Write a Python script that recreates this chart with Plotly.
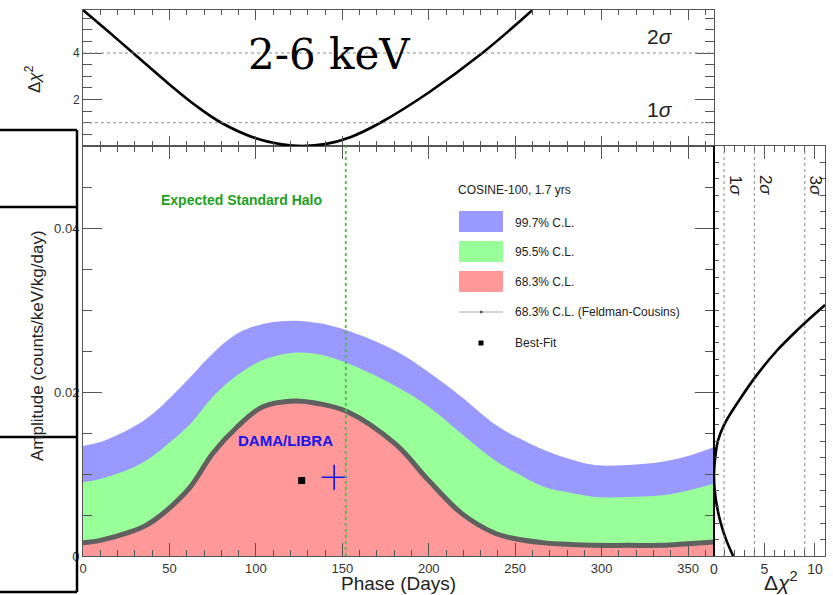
import plotly.graph_objects as go

W, H = 833, 595

# ---------------- data ----------------
phase = [0, 10, 27, 37, 47, 62, 75, 89, 104, 122, 136, 153, 181, 200, 219, 238, 250, 267, 282, 296, 315, 335, 350, 365]
fc_upper = [0.0016, 0.0019, 0.0029, 0.0038, 0.0053, 0.0084, 0.0125, 0.0157, 0.0182, 0.0189, 0.0186, 0.0176,
            0.0136, 0.0092, 0.0052, 0.0028, 0.0021, 0.0016, 0.0014, 0.0013, 0.0013, 0.0013, 0.0015, 0.0017]
cl955_upper = [0.0090, 0.0094, 0.0106, 0.0117, 0.0133, 0.0161, 0.0194, 0.0220, 0.0239, 0.0248, 0.0246, 0.0235,
               0.0207, 0.0182, 0.0149, 0.0117, 0.0102, 0.0084, 0.0077, 0.0072, 0.0072, 0.0074, 0.0080, 0.0088]
cl997_upper = [0.0134, 0.0139, 0.0155, 0.0168, 0.0186, 0.0218, 0.0247, 0.0271, 0.0283, 0.0287, 0.0284, 0.0275,
               0.0250, 0.0224, 0.0194, 0.0161, 0.0146, 0.0129, 0.0118, 0.0111, 0.0111, 0.0115, 0.0122, 0.0133]

top_phase = [0, 15, 29, 50, 65, 80, 100, 115, 127, 140, 155, 172, 200, 231, 260]
top_dchi2 = [5.85, 4.9, 4.0, 2.65, 1.75, 1.0, 0.33, 0.07, 0.0, 0.08, 0.39, 1.0, 2.3, 4.0, 5.85]

right_amp = [0.0, 0.002, 0.004, 0.006, 0.008, 0.0099, 0.012, 0.0141, 0.016, 0.019, 0.022, 0.025, 0.0276, 0.0306]
right_dchi2 = [1.9, 1.2, 0.67, 0.3, 0.07, 0.0, 0.12, 0.4, 1.0, 2.5, 4.2, 6.2, 8.3, 11.0]

best_fit_phase, best_fit_amp = [126.5], [0.0092]
dama_phase, dama_amp = [145.3], [0.0096]
halo_phase = 152
sigma_levels = [1, 4, 9]
sigma_labels = ["1σ", "2σ", "3σ"]

BLUE = "rgb(153,153,255)"
GREEN = "rgb(153,255,153)"
RED = "rgb(255,153,153)"
GRAY = "rgb(96,96,96)"
FONT = "Liberation Sans, Arial, Helvetica, sans-serif"


def px(x):
    return x / W


def py(y):
    return 1 - y / H


fig = go.Figure()

# bands (main panel)
fig.add_trace(go.Scatter(x=phase, y=cl997_upper, fill="tozeroy", fillcolor=BLUE, mode="lines",
                         line=dict(width=0, color=BLUE, shape="spline", smoothing=1.0), xaxis="x", yaxis="y",
                         showlegend=False, hoverinfo="skip"))
fig.add_trace(go.Scatter(x=phase, y=cl955_upper, fill="tozeroy", fillcolor=GREEN, mode="lines",
                         line=dict(width=0, color=GREEN, shape="spline", smoothing=1.0), xaxis="x", yaxis="y",
                         showlegend=False, hoverinfo="skip"))
fig.add_trace(go.Scatter(x=phase, y=fc_upper, fill="tozeroy", fillcolor=RED, mode="lines",
                         line=dict(width=5, color=GRAY, shape="spline", smoothing=1.0), xaxis="x", yaxis="y",
                         showlegend=False, hoverinfo="skip"))
# best fit and DAMA point
fig.add_trace(go.Scatter(x=best_fit_phase, y=best_fit_amp, mode="markers",
                         marker=dict(symbol="square", size=7, color="black"),
                         xaxis="x", yaxis="y", showlegend=False))
fig.add_trace(go.Scatter(x=dama_phase, y=dama_amp, mode="markers",
                         marker=dict(symbol="cross-thin", size=18, line=dict(width=1.6, color="rgb(20,20,235)")),
                         xaxis="x", yaxis="y", showlegend=False))

# top panel curve
fig.add_trace(go.Scatter(x=top_phase, y=top_dchi2, mode="lines",
                         line=dict(width=2.6, color="black", shape="spline", smoothing=1.1),
                         xaxis="x2", yaxis="y2", showlegend=False))
# right panel curve
fig.add_trace(go.Scatter(x=right_dchi2, y=right_amp, mode="lines",
                         line=dict(width=2.6, color="black", shape="spline", smoothing=1.1),
                         xaxis="x3", yaxis="y3", showlegend=False))

main_xdom = [px(83), px(714)]
right_xdom = [px(714), px(825)]
main_ydom = [py(556), py(146)]
top_ydom = [py(146), py(10)]

tickfont = dict(family=FONT, size=13, color="#333")
axline = dict(showline=True, linecolor="#555", linewidth=1, mirror="allticks", zeroline=False,
              showgrid=False, ticks="inside", tickcolor="#555", automargin=False)

fig.update_layout(
    width=W, height=H, margin=dict(l=0, r=0, t=0, b=0, autoexpand=False),
    paper_bgcolor="white", plot_bgcolor="white",
    xaxis=dict(domain=main_xdom, range=[0, 365], anchor="y", dtick=50, tick0=0, ticklen=13,
               minor=dict(ticks="inside", dtick=10, tick0=0, ticklen=6, tickcolor="#555"),
               tickfont=tickfont, **axline),
    yaxis=dict(domain=main_ydom, range=[0, 0.05], anchor="x", dtick=0.02, tick0=0, ticklen=19,
               minor=dict(ticks="inside", dtick=0.005, tick0=0, ticklen=9, tickcolor="#555"),
               tickfont=tickfont, **axline),
    xaxis2=dict(domain=main_xdom, range=[0, 365], anchor="y2", dtick=50, tick0=0, ticklen=10,
                minor=dict(ticks="inside", dtick=10, tick0=0, ticklen=5, tickcolor="#555"),
                showticklabels=False, **axline),
    yaxis2=dict(domain=top_ydom, range=[0, 5.85], anchor="x2", ticklen=19,
                tickvals=[2, 4],
                minor=dict(ticks="inside", dtick=0.5, tick0=0, ticklen=9, tickcolor="#555"),
                tickfont=dict(family=FONT, size=12, color="#333"), **axline),
    xaxis3=dict(domain=right_xdom, range=[0, 11], anchor="y3", dtick=5, tick0=0, ticklen=13,
                minor=dict(ticks="inside", dtick=1, tick0=0, ticklen=6, tickcolor="#555"),
                tickfont=dict(family=FONT, size=14, color="#333"), **axline),
    yaxis3=dict(domain=main_ydom, range=[0, 0.05], anchor="x3", dtick=0.002, ticklen=5,
                showticklabels=False, side="right", **axline),
)

shapes = []
# dotted sigma lines, top panel
for lv in [1, 4]:
    shapes.append(dict(type="line", xref="x2", yref="y2", x0=0, x1=365, y0=lv, y1=lv,
                       line=dict(color="#888", width=1, dash="dot")))
# dotted sigma lines, right panel
for lv in sigma_levels:
    shapes.append(dict(type="line", xref="x3", yref="y3", x0=lv, x1=lv, y0=0, y1=0.05,
                       line=dict(color="#888", width=1, dash="dot")))
# expected standard halo line
shapes.append(dict(type="line", xref="x", yref="y", x0=halo_phase, x1=halo_phase, y0=0, y1=0.05,
                   line=dict(color="rgb(70,190,70)", width=1.8, dash="dot")))
# right panel left edge
shapes.append(dict(type="line", xref="paper", yref="paper", x0=px(714), x1=px(714), y0=py(556), y1=py(146),
                   line=dict(color="black", width=2)))
# legend glyphs
for (y0, y1, c) in [(211, 232, BLUE), (241, 262, GREEN), (271, 292, RED)]:
    shapes.append(dict(type="rect", xref="paper", yref="paper", x0=px(459), x1=px(503), y0=py(y1), y1=py(y0),
                       fillcolor=c, line=dict(color=c, width=0)))
shapes.append(dict(type="line", xref="paper", yref="paper", x0=px(459), x1=px(503), y0=py(312), y1=py(312),
                   line=dict(color="#aaa", width=1)))
shapes.append(dict(type="rect", xref="paper", yref="paper", x0=px(480), x1=px(482.5), y0=py(313.2), y1=py(310.8),
                   fillcolor="#555", line=dict(width=0)))
shapes.append(dict(type="rect", xref="paper", yref="paper", x0=px(478.5), x1=px(483.5), y0=py(345.5), y1=py(340.5),
                   fillcolor="black", line=dict(width=0)))
# table-like boxes at far left
box = dict(color="black", width=2.5)
shapes.append(dict(type="line", xref="paper", yref="paper", x0=px(77), x1=px(77), y0=py(130), y1=py(592), line=box))
for yy in [130, 207, 437, 592]:
    shapes.append(dict(type="line", xref="paper", yref="paper", x0=0, x1=px(77), y0=py(yy), y1=py(yy), line=box))
fig.update_layout(shapes=shapes)

ann = []


def text(x, y, t, size, color="#222", family=FONT, angle=0, xanchor="center", yanchor="middle"):
    ann.append(dict(x=px(x), y=py(y), xref="paper", yref="paper", text=t, showarrow=False,
                    font=dict(family=family, size=size, color=color), textangle=angle,
                    xanchor=xanchor, yanchor=yanchor))


text(329, 54, "2-6 keV", 42, color="black", family="DejaVu Serif, serif")
text(660, 36, "2<i>σ</i>", 21)
text(660, 109, "1<i>σ</i>", 21)
text(33, 79, "Δ<i>χ</i><sup>2</sup>", 17, angle=-90)
text(37, 346, "Amplitude (counts/keV/kg/day)", 17, angle=-90)
text(398, 583, "Phase (Days)", 19)
text(781, 581, "Δ<i>χ</i><sup>2</sup>", 21)
for lv, lab in zip(sigma_levels, sigma_labels):
    ann.append(dict(x=lv + 1.1, y=0.0452, xref="x3", yref="y3", text=lab.replace("σ", "<i>σ</i>"),
                    showarrow=False, textangle=90,
                    font=dict(family=FONT, size=17, color="#222")))
text(241, 200, "<b>Expected Standard Halo</b>", 14, color="rgb(30,160,30)")
text(285, 440, "<b>DAMA/LIBRA</b>", 15, color="rgb(20,20,235)")
text(456, 190, "COSINE-100, 1.7 yrs", 12, xanchor="left")
text(513, 223, "99.7% C.L.", 12, xanchor="left")
text(513, 252, "95.5% C.L.", 12, xanchor="left")
text(513, 282, "68.3% C.L.", 12, xanchor="left")
text(513, 312, "68.3% C.L. (Feldman-Cousins)", 12, xanchor="left")
text(513, 343, "Best-Fit", 12, xanchor="left")
fig.update_layout(annotations=ann)

fig.write_html("out.html", config={"displayModeBar": False},
               post_script="document.body.style.margin='0';document.body.style.overflow='hidden';")
